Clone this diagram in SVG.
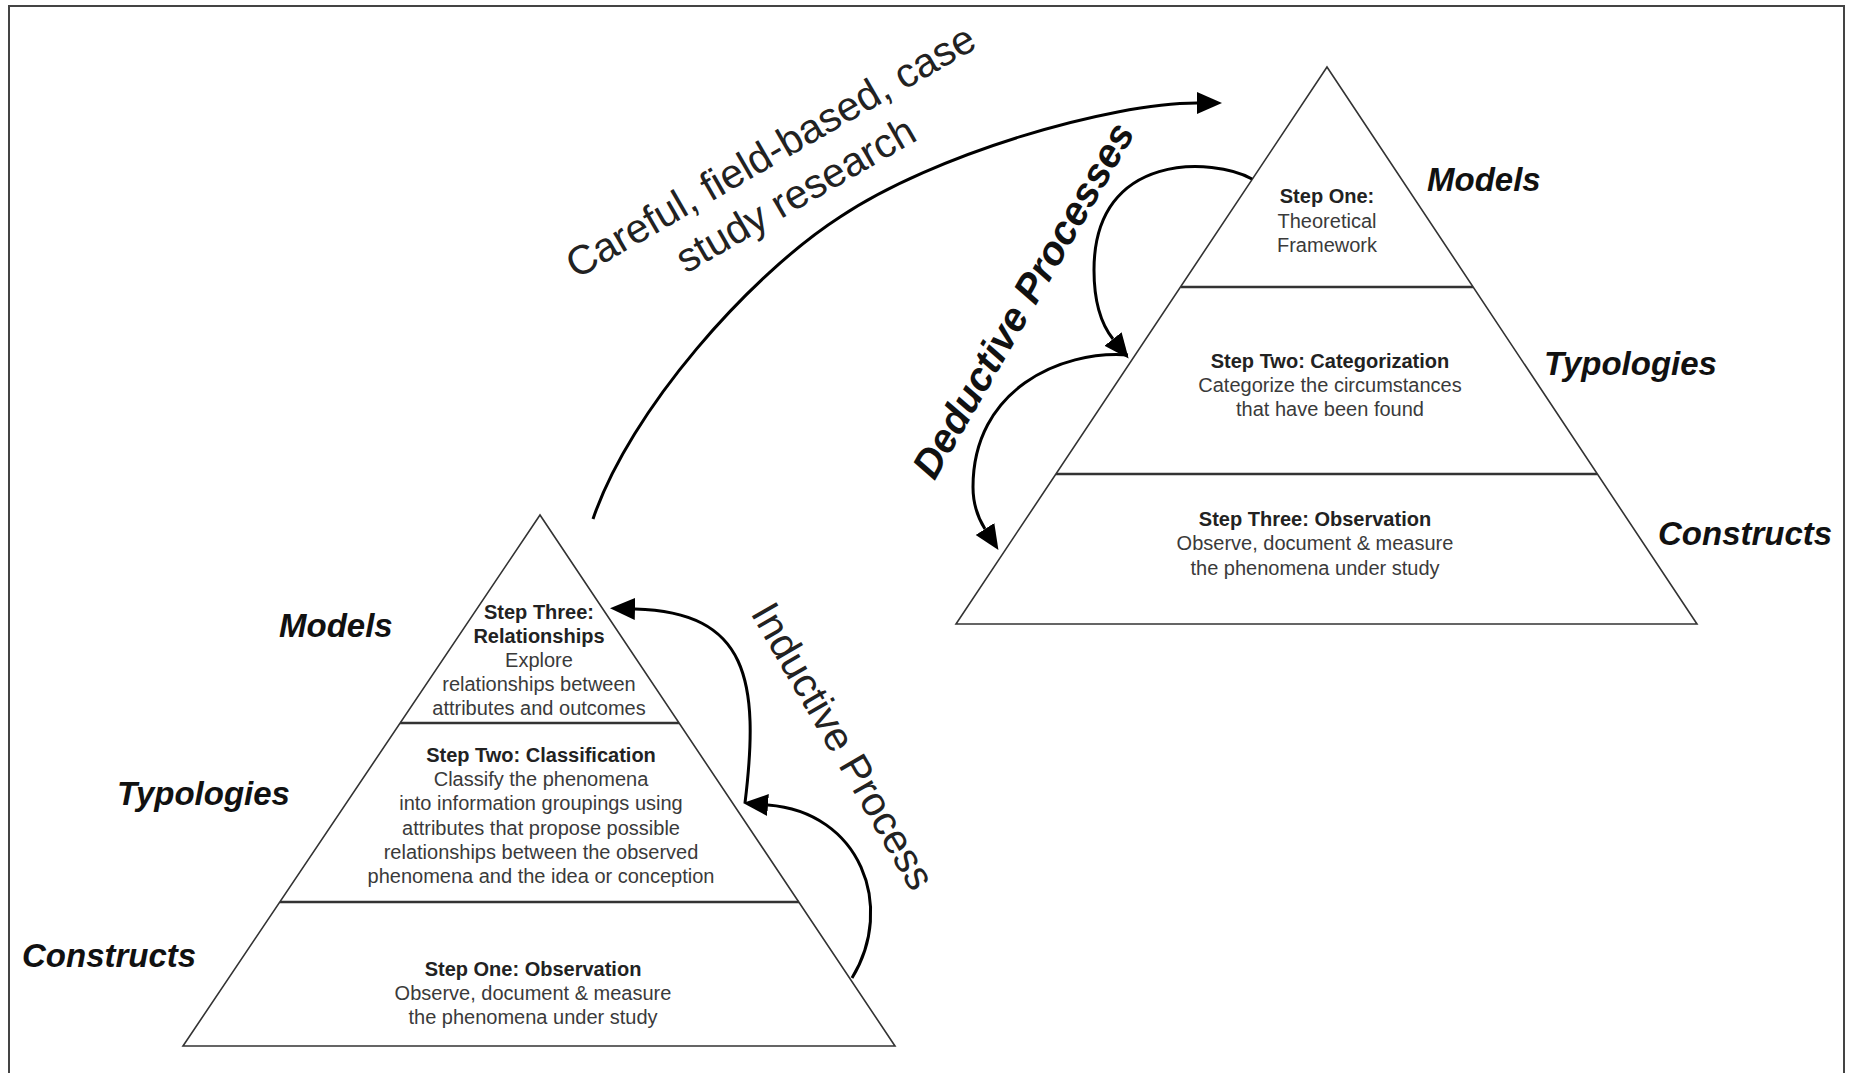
<svg xmlns="http://www.w3.org/2000/svg" width="1850" height="1073" viewBox="0 0 1850 1073">
  <style>
    .tri { fill: #fff; stroke: #333; stroke-width: 1.6; stroke-linejoin: miter; }
    .div { stroke: #333; stroke-width: 2.4; }
    .body { font-family: "Liberation Sans", Arial, sans-serif; font-size: 20px; fill: #3a3a3a; text-anchor: middle; }
    .head { font-family: "Liberation Sans", Arial, sans-serif; font-size: 20px; font-weight: bold; fill: #222; text-anchor: middle; }
    .level { font-family: "Liberation Sans", Arial, sans-serif; font-size: 33px; font-weight: bold; font-style: italic; fill: #111; }
    .big { font-family: "Liberation Sans", Arial, sans-serif; font-size: 41px; fill: #222; text-anchor: middle; }
    .bigb { font-family: "Liberation Sans", Arial, sans-serif; font-size: 40px; font-weight: bold; font-style: italic; fill: #111; text-anchor: middle; }
    .arc { fill: none; stroke: #000; stroke-width: 3; }
  </style>
  <defs>
    <marker id="head" viewBox="0 -12 26 24" markerWidth="26" markerHeight="24" refX="0" refY="0" orient="auto" markerUnits="userSpaceOnUse">
      <path d="M0,-11 L25,0 L0,11 z" fill="#000"/>
    </marker>
  </defs>

  <!-- outer frame -->
  <path d="M9,1073 V6 H1844 V1073" fill="none" stroke="#444" stroke-width="2"/>

  <!-- inductive pyramid (bottom left) -->
  <g id="inductive-pyramid">
    <polygon class="tri" points="540,515 183,1046 895,1046"/>
    <line class="div" x1="400" y1="723" x2="679" y2="723"/>
    <line class="div" x1="280" y1="902" x2="799" y2="902"/>
    <text class="head" x="539" y="619">Step Three:</text>
    <text class="head" x="539" y="643">Relationships</text>
    <text class="body" x="539" y="667">Explore</text>
    <text class="body" x="539" y="691">relationships between</text>
    <text class="body" x="539" y="715">attributes and outcomes</text>
    <text class="head" x="541" y="762">Step Two: Classification</text>
    <text class="body" x="541" y="786">Classify the phenomena</text>
    <text class="body" x="541" y="810">into information groupings using</text>
    <text class="body" x="541" y="835">attributes that propose possible</text>
    <text class="body" x="541" y="859">relationships between the observed</text>
    <text class="body" x="541" y="883">phenomena and the idea or conception</text>
    <text class="head" x="533" y="976">Step One: Observation</text>
    <text class="body" x="533" y="1000">Observe, document &amp; measure</text>
    <text class="body" x="533" y="1024">the phenomena under study</text>
  </g>
  <g id="inductive-levels">
    <text class="level" x="279" y="637">Models</text>
    <text class="level" x="117" y="805">Typologies</text>
    <text class="level" x="22" y="967">Constructs</text>
  </g>

  <!-- deductive pyramid (top right) -->
  <g id="deductive-pyramid">
    <polygon class="tri" points="1327,67 956,624 1697,624"/>
    <line class="div" x1="1181" y1="287" x2="1473" y2="287"/>
    <line class="div" x1="1056" y1="474" x2="1597" y2="474"/>
    <text class="head" x="1327" y="203">Step One:</text>
    <text class="body" x="1327" y="228">Theoretical</text>
    <text class="body" x="1327" y="252">Framework</text>
    <text class="head" x="1330" y="368">Step Two: Categorization</text>
    <text class="body" x="1330" y="392">Categorize the circumstances</text>
    <text class="body" x="1330" y="416">that have been found</text>
    <text class="head" x="1315" y="526">Step Three: Observation</text>
    <text class="body" x="1315" y="550">Observe, document &amp; measure</text>
    <text class="body" x="1315" y="575">the phenomena under study</text>
  </g>
  <g id="deductive-levels">
    <text class="level" x="1427" y="191">Models</text>
    <text class="level" x="1544" y="375">Typologies</text>
    <text class="level" x="1658" y="545">Constructs</text>
  </g>

  <!-- connectors -->
  <g id="connectors">
    <!-- field research arc from the inductive apex to the deductive pyramid -->
    <path class="arc" marker-end="url(#head)" d="M593,519 C630,410 750,275 840,217 C934,154 1110,103 1197,103"/>
    <!-- deductive steps: one to two, two to three -->
    <path class="arc" marker-end="url(#head)" d="M1252,179 C1215,158 1094,150 1094,270 C1094,300 1101,324 1113,339"/>
    <path class="arc" marker-end="url(#head)" d="M1128,355 C1060,350 973,390 973,487 C973,505 978,518 985,529"/>
    <!-- inductive steps: one to two, two to three -->
    <path class="arc" marker-end="url(#head)" d="M852,978 C896,906 860,812 768,805"/>
    <path class="arc" marker-end="url(#head)" d="M745,803 C760,680 748,612 635,609"/>
  </g>

  <!-- process labels -->
  <g id="label-research" transform="translate(790,185) rotate(-30)">
    <text class="big" x="0" y="-25">Careful, field-based, case</text>
    <text class="big" x="0" y="25">study research</text>
  </g>
  <g id="label-deductive">
    <text class="bigb" transform="translate(1035,307) rotate(-60)">Deductive Processes</text>
  </g>
  <g id="label-inductive">
    <text class="big" font-size="42" transform="translate(831,753) rotate(60)">Inductive Process</text>
  </g>
</svg>
